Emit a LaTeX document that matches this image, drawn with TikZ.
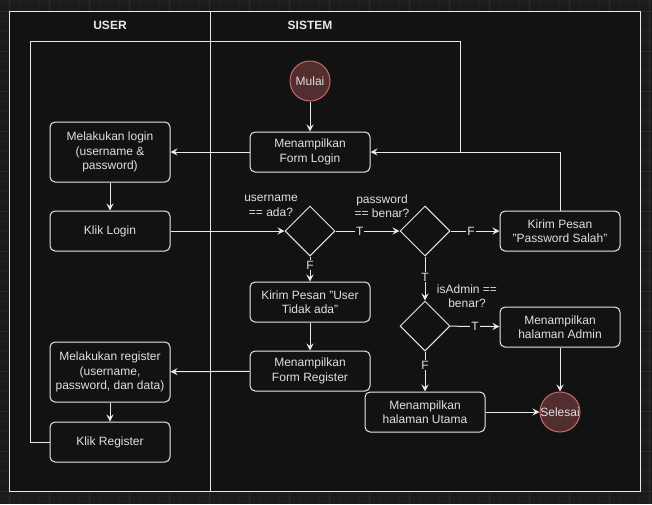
\documentclass[tikz,border=0pt]{standalone}
\usepackage{fontspec}
\setmainfont{Liberation Sans}
\usetikzlibrary{arrows.meta,shapes.geometric}
\definecolor{bgout}{RGB}{27,27,27}
\definecolor{gridmin}{RGB}{33,33,33}
\definecolor{gridmaj}{RGB}{42,42,42}
\definecolor{bgin}{RGB}{18,18,18}
\definecolor{ln}{RGB}{232,232,232}
\definecolor{txt}{RGB}{224,224,224}
\definecolor{endfill}{RGB}{82,46,46}
\definecolor{enddraw}{RGB}{198,106,106}
\tikzset{
    act/.style={draw=ln, line width=1pt, fill=bgin, rounded corners=5pt,
        minimum width=120pt, minimum height=40pt, inner sep=2pt,
        align=center, text=txt, font=\fontsize{12}{14.5}\selectfont},
    acttall/.style={act, minimum height=60pt},
    dec/.style={diamond, draw=ln, line width=1pt, fill=bgin,
        minimum width=50pt, minimum height=50pt, inner sep=0pt},
    term/.style={circle, draw=enddraw, line width=1pt, fill=endfill,
        minimum size=40pt, inner sep=0pt, text=txt, font=\fontsize{12}{14.5}\selectfont},
    flow/.style={draw=ln, line width=1pt, -{Stealth[length=7pt,width=7pt,inset=2.5pt]}},
    plain/.style={draw=ln, line width=1pt},
    cond/.style={fill=bgin, text=txt, inner sep=1pt, font=\fontsize{12}{14.5}\selectfont},
    ask/.style={text=txt, align=center, inner sep=0pt, font=\fontsize{12}{14.5}\selectfont},
    lane/.style={text=ln, font=\bfseries\fontsize{12}{14.5}\selectfont},
}
\begin{document}
\begin{tikzpicture}[x=1pt,y=-1pt]
    %% canvas and grid
    \useasboundingbox (0,0) rectangle (652,504);
    \fill[bgout] (0,0) rectangle (652,504);
    \foreach \gx in {-1,9,...,651} \draw[gridmin] (\gx,0) -- (\gx,504);
    \foreach \gy in {1,11,...,504} \draw[gridmin] (0,\gy) -- (652,\gy);
    \foreach \gx in {9,49,...,651} \draw[gridmaj] (\gx,0) -- (\gx,504);
    \foreach \gy in {11,51,...,504} \draw[gridmaj] (0,\gy) -- (652,\gy);
    %% swimlanes
    \draw[ln, line width=1pt, fill=bgin] (9,11) rectangle (640,491);
    \draw[ln, line width=1pt] (210,11) -- (210,491);
    \node[lane] (laneuser) at (110,25) {USER};
    \node[lane] (lanesistem) at (310,25) {SISTEM};
    %% nodes
    \node[term] (mulai) at (310,81) {\makebox[0pt]{Mulai}};
    \node[act] (formlogin) at (310,152) {Menampilkan\\Form Login};
    \node[acttall] (login) at (110,152) {Melakukan login\\(username \&\\password)};
    \node[act] (kliklogin) at (110,231) {Klik Login};
    \node[dec] (cekuser) at (310,231) {};
    \node[dec] (cekpass) at (425,231) {};
    \node[act] (pesanpass) at (560,231) {Kirim Pesan\\"Password Salah"};
    \node[act] (pesanuser) at (310,302) {Kirim Pesan "User\\Tidak ada"};
    \node[dec] (cekadmin) at (425,326) {};
    \node[act] (hadmin) at (560,327) {Menampilkan\\halaman Admin};
    \node[act] (formreg) at (310,371) {Menampilkan\\Form Register};
    \node[acttall] (register) at (110,372) {Melakukan register\\(username,\\password, dan data)};
    \node[act] (klikreg) at (110,442) {Klik Register};
    \node[act] (hutama) at (425,412) {Menampilkan\\halaman Utama};
    \node[term] (selesai) at (560,412) {\makebox[0pt]{Selesai}};
    %% questions
    \node[ask] (askuser) at (271,206) {username\\== ada?};
    \node[ask] (askpass) at (382,206) {password\\== benar?};
    \node[ask] (askadmin) at (467,296) {isAdmin ==\\benar?};
    %% flow
    \draw[flow] (mulai) -- (formlogin);
    \draw[flow] (formlogin) -- (login);
    \draw[flow] (login) -- (kliklogin);
    \draw[flow] (kliklogin) -- (cekuser);
    \draw[flow] (cekuser) -- node[cond, pos=0.38] {T} (cekpass);
    \draw[flow] (cekpass) -- node[cond, pos=0.42] {F} (pesanpass);
    \draw[flow] (pesanpass.north) |- (formlogin.east);
    \draw[flow] (cekuser) -- node[cond, pos=0.35] {F} (pesanuser);
    \draw[flow] (pesanuser) -- (formreg);
    \draw[flow] (formreg) -- (register);
    \draw[flow] (register) -- (klikreg);
    \draw[flow] (cekpass) -- node[cond, pos=0.47] {T} (cekadmin);
    \draw[flow] (cekadmin) -- node[cond, pos=0.5] {T} (hadmin);
    \draw[flow] (cekadmin) -- node[cond, pos=0.34] {F} (hutama);
    \draw[flow] (hadmin) -- (selesai);
    \draw[flow] (hutama) -- (selesai);
    %% back to login
    \coordinate (loopa) at (30,41);
    \coordinate (loopb) at (460,41);
    \coordinate (loopc) at (460,152);
    \draw[plain] (klikreg.west) -| (loopa) -- (loopb) -- (loopc);
\end{tikzpicture}
\end{document}
